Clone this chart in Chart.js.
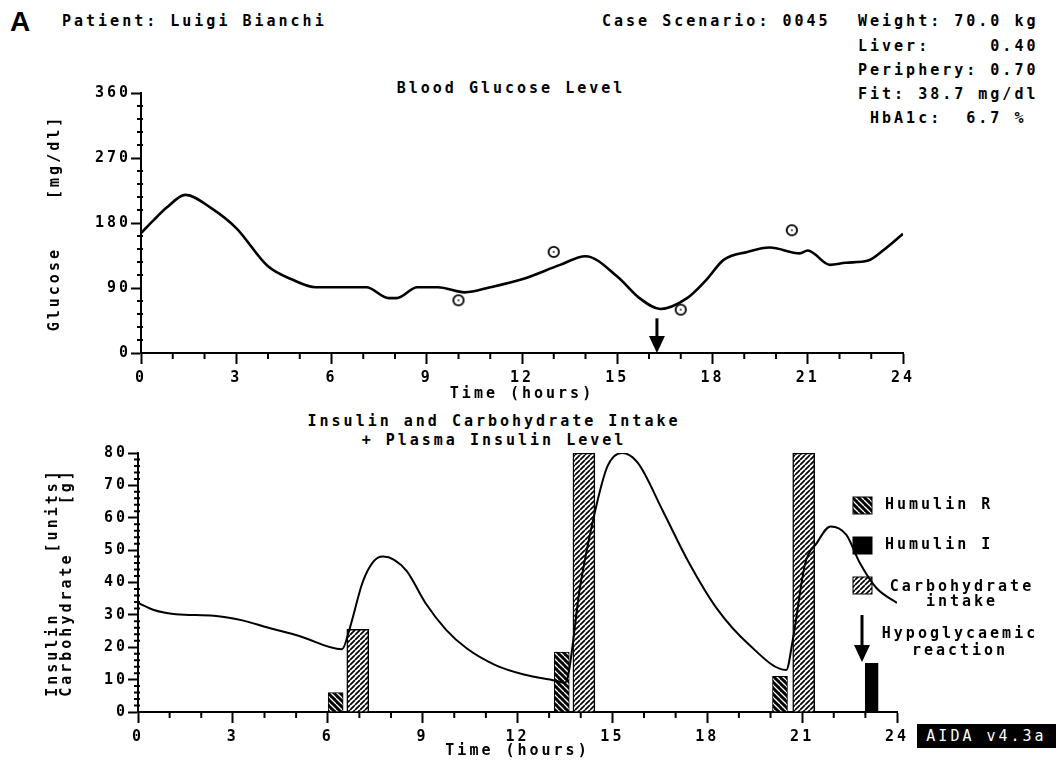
<!DOCTYPE html>
<html>
<head>
<meta charset="utf-8">
<script src="https://cdn.jsdelivr.net/npm/chart.js@4/dist/chart.umd.min.js"></script>
<style>
  body { margin: 0; width: 1059px; height: 761px; background: #fff; position: relative; overflow: hidden;
         font: bold 15px 'DejaVu Sans Mono', monospace; letter-spacing: 3px; color: #000; }
  .t { position: absolute; white-space: pre; line-height: 19px; }
  canvas { position: absolute; left: 0; }
</style>
</head>
<body>
<div class="t" style="left:10px;top:8px;font:bold 28px 'Liberation Sans',Arial;letter-spacing:0;line-height:28px">A</div>
<div class="t" style="left:62px;top:12px">Patient: Luigi Bianchi</div>
<div class="t" style="left:602px;top:12px">Case Scenario: 0045</div>
<div class="t" style="left:858px;top:12px">Weight: 70.0 kg</div>
<div class="t" style="left:858px;top:37px">Liver:     0.40</div>
<div class="t" style="left:858px;top:61px">Periphery: 0.70</div>
<div class="t" style="left:858px;top:85px">Fit: 38.7 mg/dl</div>
<div class="t" style="left:858px;top:109px"> HbA1c:  6.7 %</div>
<div class="t" style="left:511px;top:79px;transform:translateX(-50%)">Blood Glucose Level</div>
<div class="t" style="left:494px;top:412px;transform:translateX(-50%);text-align:center">Insulin and Carbohydrate Intake
+ Plasma Insulin Level</div>

<canvas id="top" width="1059" height="353" style="top:60px"></canvas>
<canvas id="bot" width="1059" height="321" style="top:440px"></canvas>

<div class="t" style="left:917px;top:724px;width:139px;height:24px;line-height:24px;background:#000;color:#fff;text-align:center;font-weight:normal">AIDA v4.3a</div>

<script>
// blood glucose, mg/dl
const glucoseHours = [0, 0.4, 0.8, 1.4, 2.2, 3, 4, 4.8, 5.5, 7.1, 7.8, 8.05, 8.7, 9.35, 10.2, 11, 12, 13.2, 14,
                      15, 15.7, 16.35, 17.2, 17.8, 18.35, 19.1, 19.8, 20.75, 21, 21.7, 22.2, 22.9, 23.4, 24];
const glucoseLevel = [166, 184, 201, 219, 201, 173, 120, 101, 91, 91, 76, 76, 91, 91, 84, 91, 102, 122, 134,
                      106, 76, 61, 76, 101, 129, 140, 146, 138, 142, 122, 125, 128, 143, 165];
const measuredHours = [10, 13, 17, 20.5];
const measuredGlucose = [73, 140, 60, 170];
const hypoHours = [16.25];

// plasma insulin level
const plasmaHours = [0, 0.5, 1.2, 2.4, 3.3, 4.1, 5.1, 6.45, 6.7, 7.1, 7.45, 7.75, 8.1, 8.5, 9.1, 9.75, 10.4,
                     11.3, 12.2, 13.2, 13.5, 14, 14.5, 14.85, 15.3, 15.8, 16.6, 17.4, 18.3, 19.3, 20.5,
                     20.7, 21.1, 21.45, 21.9, 22.4, 22.8, 23.35, 24];
const plasmaInsulin = [33.7, 31.5, 30.2, 29.7, 28.3, 26.1, 23.5, 19.4, 26, 40, 46.5, 48, 47, 43.5, 33.5, 25.3, 19.6,
                       14.5, 11.6, 9.7, 9, 40, 64, 76, 80, 77, 62, 46.5, 32, 21, 13,
                       22, 46, 52, 57.3, 54.7, 46.5, 38.3, 33.7];

// injections and meals
const humulinRHours = [6.25, 13.4, 20.3];
const humulinRUnits = [6, 18.5, 11];
const humulinIHours = [23.2];
const humulinIUnits = [15];
const carbHours = [6.95, 14.1, 21.05];
const carbGrams = [25.5, 80, 80];

const FONT = "'DejaVu Sans Mono', monospace";
Chart.defaults.font.family = FONT;
Chart.defaults.font.size = 15;
Chart.defaults.font.weight = 'bold';
Chart.defaults.color = '#000';

const pts = (xs, ys) => xs.map((x, i) => ({ x, y: ys[i] }));

const spacing = {
  id: 'spacing',
  beforeUpdate(chart) { chart.ctx.letterSpacing = '3px'; },
  beforeDraw(chart) { chart.ctx.letterSpacing = '3px'; }
};

const minorTicks = {
  id: 'minorTicks',
  afterDraw(chart) {
    const { ctx, chartArea } = chart;
    ctx.save();
    ctx.strokeStyle = '#000';
    ctx.lineWidth = 2;
    ctx.beginPath();
    ['x', 'y'].forEach(id => {
      const s = chart.scales[id];
      s.ticks.forEach(t => {
        if (t.label !== '') return;
        const p = s.getPixelForValue(t.value);
        if (id === 'x') { ctx.moveTo(p, chartArea.bottom); ctx.lineTo(p, chartArea.bottom + 6); }
        else { ctx.moveTo(chartArea.left - 4, p); ctx.lineTo(chartArea.left + 2, p); }
      });
    });
    ctx.stroke();
    ctx.restore();
  }
};

function drawArrow(ctx, px, top, bottom) {
  ctx.save();
  ctx.fillStyle = '#000';
  ctx.fillRect(px - 1.5, top, 3, bottom - top - 15);
  ctx.beginPath();
  ctx.moveTo(px - 8, bottom - 17);
  ctx.lineTo(px + 8, bottom - 17);
  ctx.lineTo(px, bottom);
  ctx.closePath();
  ctx.fill();
  ctx.restore();
}

const hypoArrows = {
  id: 'hypoArrows',
  afterDatasetsDraw(chart) {
    const { x, y } = chart.scales;
    hypoHours.forEach(h => drawArrow(chart.ctx, x.getPixelForValue(h), y.getPixelForValue(48), y.getPixelForValue(0)));
  }
};

const tickColor = c => (c.tick && c.tick.label !== '') ? '#000' : 'rgba(0,0,0,0)';

function axes(yMax, yStep, yMajor, yTitle, yWidth, titleLH, xHeight, xTitlePad) {
  return {
    x: {
      type: 'linear', min: 0, max: 24, offset: false,
      ticks: { stepSize: 1, autoSkip: false, maxRotation: 0, padding: 5,
               callback: v => v % 3 === 0 ? v : '' },
      grid: { drawOnChartArea: false, offset: false, tickLength: 11, tickWidth: 2, tickColor },
      border: { color: '#000', width: 2 },
      title: { display: true, text: 'Time (hours)', padding: { top: 0, bottom: xTitlePad } },
      afterFit: s => { s.height = xHeight; }
    },
    y: {
      min: 0, max: yMax,
      ticks: { stepSize: yStep, autoSkip: false, padding: 0,
               callback: v => v % yMajor === 0 ? v : '' },
      grid: { drawOnChartArea: false, tickLength: 10, tickWidth: 2, tickColor },
      border: { color: '#000', width: 2 },
      title: { display: true, text: yTitle, padding: { top: 46, bottom: 0 },
               font: { lineHeight: titleLH } },
      afterFit: s => { s.width = yWidth; }
    }
  };
}

// glucose marker: small ring with a dot
const ring = document.createElement('canvas');
ring.width = ring.height = 14;
(g => {
  g.beginPath(); g.arc(7, 7, 5.2, 0, Math.PI * 2);
  g.fillStyle = '#fff'; g.fill();
  g.lineWidth = 1.8; g.strokeStyle = '#000'; g.stroke();
  g.fillStyle = '#000'; g.fillRect(6.2, 6.2, 1.6, 1.6);
})(ring.getContext('2d'));

new Chart(document.getElementById('top'), {
  type: 'line',
  data: {
    datasets: [
      { data: pts(glucoseHours, glucoseLevel), borderColor: '#000', borderWidth: 2.6,
        pointRadius: 0, cubicInterpolationMode: 'monotone' },
      { data: pts(measuredHours, measuredGlucose), showLine: false, pointStyle: ring, pointRadius: 6 }
    ]
  },
  options: {
    responsive: false, animation: false,
    layout: { padding: { left: 0, right: 156, top: 33, bottom: 0 } },
    plugins: { legend: { display: false }, tooltip: { enabled: false } },
    scales: axes(360, 18, 90, ['Glucose    [mg/dl]'], 141, 1.2, 60, 10)
  },
  plugins: [spacing, minorTicks, hypoArrows]
});

// hatch fills
const botCtx = document.getElementById('bot').getContext('2d');
function hatch(back, bg, fg, w, n) {
  const c = document.createElement('canvas');
  c.width = c.height = n;
  const g = c.getContext('2d');
  g.fillStyle = bg; g.fillRect(0, 0, n, n);
  g.strokeStyle = fg; g.lineWidth = w;
  g.beginPath();
  for (let k = -n; k <= 2 * n; k += n) {
    if (back) { g.moveTo(k, 0); g.lineTo(k + n, n); }
    else { g.moveTo(k, n); g.lineTo(k + n, 0); }
  }
  g.stroke();
  return botCtx.createPattern(c, 'repeat');
}
const patR = hatch(true, '#000', '#fff', 1.3, 6);
const patCarb = hatch(false, '#fff', '#000', 1.7, 5);

const insulinLegend = {
  id: 'insulinLegend',
  beforeDatasetsDraw(chart) {
    const ctx = chart.ctx;
    ctx.save();
    ctx.letterSpacing = '3px';
    ctx.font = 'bold 15px ' + FONT;
    ctx.fillStyle = '#000';
    ctx.textBaseline = 'middle';
    const boxes = [[patR, 57, 'Humulin R'], ['#000', 97, 'Humulin I'], [patCarb, 137, null]];
    boxes.forEach(([fill, y, label]) => {
      ctx.fillStyle = fill;
      ctx.fillRect(853, y, 19, 17);
      ctx.strokeStyle = '#000'; ctx.lineWidth = 1;
      ctx.strokeRect(853, y, 19, 17);
      ctx.fillStyle = '#000';
      if (label) { ctx.textAlign = 'left'; ctx.fillText(label, 885, y + 8.5); }
    });
    ctx.textAlign = 'center';
    ctx.fillText('Carbohydrate', 962, 147);
    ctx.fillText('intake', 962, 162);
    ctx.fillText('Hypoglycaemic', 960, 194);
    ctx.fillText('reaction', 960, 211);
    drawArrow(ctx, 862, 175, 222);
    ctx.restore();
  }
};

new Chart(botCtx, {
  type: 'bar',
  data: {
    datasets: [
      { type: 'line', data: pts(plasmaHours, plasmaInsulin), borderColor: '#000', borderWidth: 2,
        pointRadius: 0, cubicInterpolationMode: 'monotone', order: 0 },
      { label: 'Humulin R', data: pts(humulinRHours, humulinRUnits), backgroundColor: patR,
        borderColor: '#000', borderWidth: 1, barThickness: 15, grouped: false, order: 1 },
      { label: 'Humulin I', data: pts(humulinIHours, humulinIUnits), backgroundColor: '#000',
        borderColor: '#000', borderWidth: 1, barThickness: 13, grouped: false, order: 1 },
      { label: 'Carbohydrate intake', data: pts(carbHours, carbGrams), backgroundColor: patCarb,
        borderColor: '#000', borderWidth: 1.5, barThickness: 22, grouped: false, order: 1 }
    ]
  },
  options: {
    responsive: false, animation: false,
    layout: { padding: { left: 0, right: 162, top: 13, bottom: 0 } },
    plugins: { legend: { display: false }, tooltip: { enabled: false } },
    scales: axes(80, 2, 10, ['Insulin     [units]', 'Carbohydrate    [g]'], 138, '14px', 49, 1)
  },
  plugins: [spacing, minorTicks, insulinLegend]
});
</script>
</body>
</html>
